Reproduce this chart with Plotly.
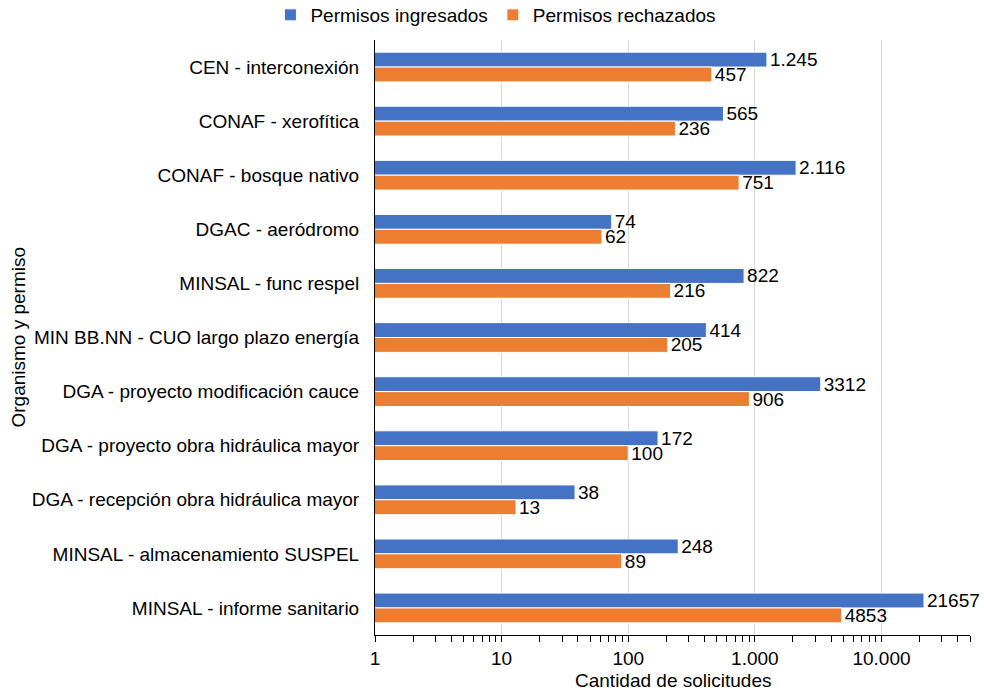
import plotly.graph_objects as go

categories = [
    "CEN - interconexión",
    "CONAF - xerofítica",
    "CONAF - bosque nativo",
    "DGAC - aeródromo",
    "MINSAL - func respel",
    "MIN BB.NN - CUO largo plazo energía",
    "DGA - proyecto modificación cauce",
    "DGA - proyecto obra hidráulica mayor",
    "DGA - recepción obra hidráulica mayor",
    "MINSAL - almacenamiento SUSPEL",
    "MINSAL - informe sanitario",
]
ingresados = [1245, 565, 2116, 74, 822, 414, 3312, 172, 38, 248, 21657]
rechazados = [457, 236, 751, 62, 216, 205, 906, 100, 13, 89, 4853]
ingresados_txt = ["1.245", "565", "2.116", "74", "822", "414", "3312", "172", "38", "248", "21657"]
rechazados_txt = ["457", "236", "751", "62", "216", "205", "906", "100", "13", "89", "4853"]
major_ticks = [1, 10, 100, 1000, 10000]
major_labels = ["1", "10", "100", "1.000", "10.000"]

FONT = "Liberation Sans, Arial, sans-serif"
FS = 19

fig = go.Figure()
fig.add_trace(go.Bar(
    y=categories, x=ingresados, name="Permisos ingresados", orientation="h",
    marker=dict(color="#4472C4", line=dict(color="white", width=1)),
    text=ingresados_txt, textposition="outside", cliponaxis=False, constraintext="none",
    textfont=dict(size=FS, color="black", family=FONT),
))
fig.add_trace(go.Bar(
    y=categories, x=rechazados, name="Permisos rechazados", orientation="h",
    marker=dict(color="#ED7D31", line=dict(color="white", width=1)),
    text=rechazados_txt, textposition="outside", cliponaxis=False, constraintext="none",
    textfont=dict(size=FS, color="black", family=FONT),
))

minor_vals = []
for dec in [1, 10, 100, 1000, 10000]:
    for m in range(2, 10):
        v = m * dec
        if v <= 50000:
            minor_vals.append(v)

fig.update_layout(
    width=984, height=693,
    barmode="group", bargap=0.45, bargroupgap=0,
    plot_bgcolor="white", paper_bgcolor="white",
    font=dict(family=FONT, size=FS, color="black"),
    margin=dict(l=375, r=14, t=40, b=58, autoexpand=False),
    showlegend=True,
    legend=dict(orientation="h", xref="container", yref="paper",
                x=0.504, xanchor="center", y=1 + 44 / 595, yanchor="top",
                font=dict(size=FS), itemwidth=30, traceorder="normal"),
    uniformtext=dict(mode=False),
)
fig.update_xaxes(
    type="log", range=[0, 4.699], automargin=False,
    tickvals=major_ticks, ticktext=major_labels,
    showgrid=True, gridcolor="#d9d9d9", gridwidth=1,
    showline=True, linecolor="black", linewidth=1,
    ticks="outside", ticklen=6, tickcolor="black",
    minor=dict(tickvals=minor_vals, ticks="outside", ticklen=6, tickcolor="black", showgrid=False),
    tickfont=dict(size=FS),
    zeroline=False,
)
fig.update_yaxes(
    autorange="reversed", automargin=False,
    showline=True, linecolor="black", linewidth=1,
    ticks="", ticklabelstandoff=11,
    tickfont=dict(size=FS),
    showgrid=False,
)
fig.add_annotation(
    text="Organismo y permiso", textangle=-90,
    xref="paper", yref="paper", x=(18 - 375) / 595, y=0.5,
    showarrow=False, font=dict(size=FS), xanchor="center", yanchor="middle",
)
fig.add_annotation(
    text="Cantidad de solicitudes",
    xref="paper", yref="paper", x=0.5, y=(635 - 680) / 595,
    showarrow=False, font=dict(size=FS), xanchor="center", yanchor="middle",
)

fig.write_html("out.html", config={"displayModeBar": False},
               post_script="document.body.style.margin='0';")
